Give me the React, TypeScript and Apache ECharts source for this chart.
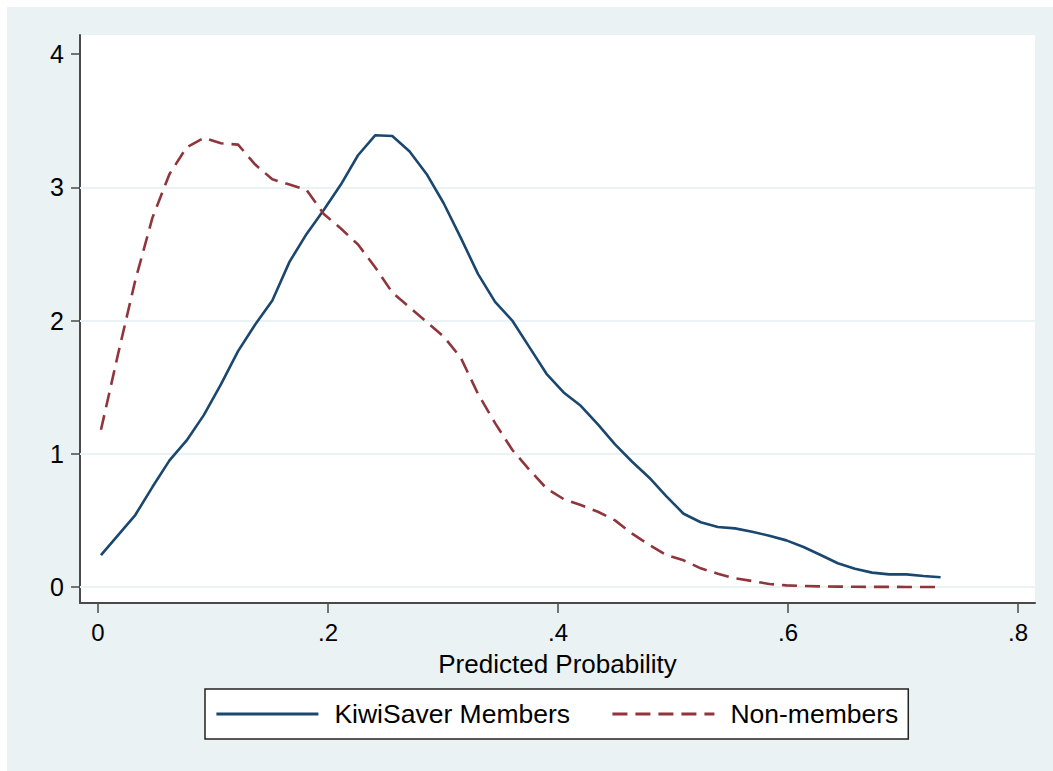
import React, { useEffect, useRef } from "react";
import * as echarts from "echarts";

// Evaluation points of the kernel density (Predicted Probability)
const xPoints = [
  0.0026, 0.0175, 0.0324, 0.0473, 0.0622, 0.0771, 0.092, 0.1069, 0.1218, 0.1367,
  0.1516, 0.1665, 0.1814, 0.1963, 0.2112, 0.2261, 0.241, 0.2559, 0.2708, 0.2857,
  0.3006, 0.3155, 0.3304, 0.3453, 0.3602, 0.3751, 0.39, 0.4049, 0.4198, 0.4347,
  0.4496, 0.4645, 0.4794, 0.4943, 0.5092, 0.5241, 0.539, 0.5539, 0.5688, 0.5837,
  0.5986, 0.6135, 0.6284, 0.6433, 0.6582, 0.6731, 0.688, 0.7029, 0.7178, 0.7327,
];

const membersDensity = [
  0.24, 0.39, 0.54, 0.75, 0.95, 1.1, 1.29, 1.52, 1.77, 1.97,
  2.15, 2.44, 2.65, 2.83, 3.02, 3.24, 3.39, 3.385, 3.27, 3.1,
  2.88, 2.62, 2.35, 2.14, 2.0, 1.8, 1.6, 1.46, 1.36, 1.22,
  1.07, 0.94, 0.82, 0.68, 0.55, 0.486, 0.45, 0.44, 0.415, 0.385,
  0.35, 0.3, 0.24, 0.178, 0.137, 0.108, 0.095, 0.095, 0.083, 0.073,
];

const nonMembersDensity = [
  1.18, 1.75, 2.3, 2.77, 3.1, 3.3, 3.37, 3.33, 3.32, 3.17,
  3.06, 3.02, 2.98, 2.8, 2.69, 2.57, 2.4, 2.21, 2.1, 1.99,
  1.88, 1.72, 1.45, 1.23, 1.03, 0.88, 0.74, 0.66, 0.615, 0.565,
  0.5, 0.4, 0.315, 0.24, 0.2, 0.14, 0.1, 0.065, 0.045, 0.023,
  0.012, 0.008, 0.005, 0.003, 0.002, 0.001, 0.001, 0.0005, 0.0003, 0.0002,
];

const seriesNames = ["KiwiSaver Members", "Non-members"];
const xTicks = [0, 0.2, 0.4, 0.6, 0.8];
const xTickLabels = ["0", ".2", ".4", ".6", ".8"];
const yTicks = [0, 1, 2, 3, 4];
const yTickLabels = ["0", "1", "2", "3", "4"];
const yGridLines = [0, 1, 2, 3];
const xTitle = "Predicted Probability";

const FONT = "'Liberation Sans', Arial, Helvetica, sans-serif";
const NAVY = "#1A476F";
const MAROON = "#90353B";
const AXIS = "#4a4a4a";

function lookup(values: number[], labels: string[], v: number): string {
  for (let i = 0; i < values.length; i++) {
    if (Math.abs(values[i] - v) < 1e-6) return labels[i];
  }
  return "";
}

export default function App() {
  const ref = useRef<HTMLDivElement>(null);

  useEffect(() => {
    if (!ref.current) return;
    const chart = echarts.init(ref.current, undefined, { renderer: "svg" });

    const membersData = xPoints.map((x, i) => [x, membersDensity[i]]);
    const nonMembersData = xPoints.map((x, i) => [x, nonMembersDensity[i]]);

    chart.setOption({
      animation: false,
      backgroundColor: "transparent",
      textStyle: { fontFamily: FONT },
      grid: {
        left: 80,
        right: 18,
        top: 35,
        bottom: 168,
        show: true,
        backgroundColor: "#ffffff",
        borderWidth: 0,
        containLabel: false,
      },
      xAxis: {
        type: "value",
        min: -0.01565,
        max: 0.81478,
        name: xTitle,
        nameLocation: "middle",
        nameGap: 50.5,
        nameMoveOverlap: false,
        nameTextStyle: { color: "#000", fontSize: 26, lineHeight: 20, fontFamily: FONT },
        axisLine: { show: true, onZero: false, lineStyle: { color: AXIS, width: 2 } },
        axisTick: {
          show: true,
          inside: false,
          length: 10,
          customValues: xTicks,
          lineStyle: { color: AXIS, width: 1.5 },
        },
        axisLabel: {
          show: true,
          customValues: xTicks,
          margin: 20,
          color: "#000",
          fontSize: 24,
          lineHeight: 18,
          fontFamily: FONT,
          formatter: (v: number) => lookup(xTicks, xTickLabels, v),
        },
        splitLine: { show: false },
      },
      yAxis: {
        type: "value",
        min: -0.12,
        max: 4.1426,
        axisLine: { show: true, onZero: false, lineStyle: { color: AXIS, width: 2 } },
        axisTick: {
          show: true,
          inside: false,
          length: 9,
          customValues: yTicks,
          lineStyle: { color: AXIS, width: 1.5 },
        },
        axisLabel: {
          show: true,
          customValues: yTicks,
          margin: 16,
          color: "#000",
          fontSize: 25,
          fontFamily: FONT,
          formatter: (v: number) => lookup(yTicks, yTickLabels, v),
        },
        splitLine: { show: false },
      },
      legend: {
        show: true,
        left: 205,
        top: 689,
        orient: "horizontal",
        padding: [10, 10, 10, 10],
        itemGap: 41,
        itemWidth: 102,
        itemHeight: 14,
        backgroundColor: "#ffffff",
        borderColor: "#222",
        borderWidth: 1.5,
        borderRadius: 0,
        itemStyle: { opacity: 0 },
        lineStyle: { width: 2.8 },
        textStyle: {
          color: "#000",
          fontSize: 26.5,
          fontFamily: FONT,
          lineHeight: 30,
          padding: [0, 0, 0, 11],
        },
        data: seriesNames,
      },
      series: [
        {
          name: seriesNames[0],
          type: "line",
          data: membersData,
          showSymbol: false,
          symbol: "none",
          smooth: false,
          lineStyle: { color: NAVY, width: 2.6 },
          itemStyle: { color: NAVY },
          z: 3,
          markLine: {
            silent: true,
            symbol: ["none", "none"],
            label: { show: false },
            lineStyle: { color: "#EAF2F3", width: 2, type: "solid" },
            emphasis: { disabled: true },
            data: yGridLines.map((v) => ({ yAxis: v })),
            z: 1,
          },
        },
        {
          name: seriesNames[1],
          type: "line",
          data: nonMembersData,
          showSymbol: false,
          symbol: "none",
          smooth: false,
          lineStyle: { color: MAROON, width: 2.6, type: [15, 8] },
          itemStyle: { color: MAROON },
          z: 4,
        },
      ],
    });

    return () => {
      chart.dispose();
    };
  }, []);

  return (
    <div
      style={{
        position: "absolute",
        left: 0,
        top: 0,
        width: 1053,
        height: 771,
        background: "#ffffff",
        overflow: "hidden",
      }}
    >
      <div
        style={{
          position: "absolute",
          left: 7,
          top: 7,
          width: 1046,
          height: 764,
          background: "#EAF2F3",
        }}
      />
      <div
        ref={ref}
        style={{ position: "absolute", left: 0, top: 0, width: 1053, height: 771 }}
      />
    </div>
  );
}
